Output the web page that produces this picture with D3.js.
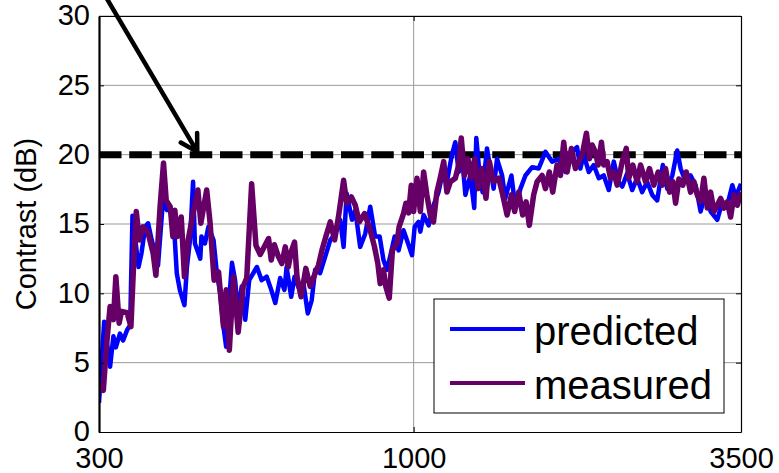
<!DOCTYPE html>
<html>
<head>
<meta charset="utf-8">
<script src="https://cdn.jsdelivr.net/npm/d3@7"></script>
<style>
  body { margin: 0; background: #fff; }
  text { font-family: Arial, "Liberation Sans", sans-serif; }
</style>
</head>
<body>
<div id="chart"></div>
<script>
// Frequencies (Hz) and contrast (dB)
var predictedFreq = [300,306,313,317,320,325,329,334,338,341,349,353,358,362,367,372,376,384,389,394,
  401,404,409,416,420,425,430,433,442,444,450,456,465,471,477,483,488,492,499,505,
  511,518,525,533,549,559,570,580,589,600,610,615,626,634,645,656,667,677,686,699,
  713,727,741,755,765,774,790,800,815,831,847,863,878,891,903,914,930,944,962,979,
  994,1004,1019,1026,1039,1059,1079,1100,1115,1136,1158,1173,1188,1203,1219,1242,1261,1271,1286,1302,
  1324,1341,1358,1376,1403,1420,1454,1476,1505,1534,1574,1614,1656,1699,1742,1788,1834,1869,1893,1917,
  1955,1992,2031,2070,2110,2151,2188,2222,2264,2308,2352,2398,2444,2492,2540,2595,2639,2691,2742,2778,
  2831,2886,2942,2999,3057,3116,3196,3259,3321,3386,3429,3500];
var predicted = [2.1,7.95,4.7,6.9,6.1,7.1,6.6,7.35,7.7,15.6,11.9,12.9,14.8,15.05,13.85,12.9,12.0,17.2,16.0,16.1,
  13.85,11.45,10.2,9.15,11.9,13.85,18.05,13.6,12.5,14.1,13.6,14.8,13.85,11.45,10.0,7.6,6.15,8.6,12.2,10.95,
  8.6,10.5,8.1,10.95,11.9,10.95,11.2,10.25,9.3,11.1,10.25,11.9,9.75,11.2,10.35,10.7,8.55,9.5,11.7,11.45,
  12.65,13.85,14.3,15.3,13.35,17.2,15.3,16.0,13.35,14.3,16.25,14.1,14.1,12.4,11.7,12.65,14.1,13.1,14.55,13.6,
  12.75,14.8,15.15,14.45,15.65,14.9,16.35,17.3,18.5,18.05,20.0,20.9,18.75,20.0,17.1,18.5,16.15,21.2,18.75,17.3,
  20.45,19.0,17.55,19.7,18.5,16.85,18.5,16.15,17.55,18.5,19.1,19.0,20.2,19.5,19.7,18.75,20.2,20.55,19.0,20.0,
  18.75,19.25,18.3,18.5,17.45,19.5,18.05,17.7,18.65,17.45,18.3,17.3,18.05,17.1,16.7,19.25,17.55,18.5,20.3,19.0,
  18.05,18.5,17.8,15.9,17.3,15.9,15.3,16.6,16.35,17.8,16.95,17.9];

var measuredFreq = [300,305,309,313,317,320,324,327,334,339,342,346,350,355,362,369,373,379,384,388,
  394,398,401,405,411,416,422,430,438,443,453,459,466,474,483,488,494,502,511,521,
  528,538,547,556,563,574,580,587,596,604,612,619,626,634,640,650,662,673,684,695,
  704,716,727,739,750,765,774,788,800,812,829,847,861,872,880,891,899,911,922,938,
  946,962,971,981,991,1000,1013,1026,1039,1052,1066,1079,1093,1107,1122,1136,1151,1173,1188,1200,
  1215,1231,1247,1263,1280,1299,1319,1336,1358,1385,1403,1430,1454,1472,1495,1518,1538,1557,1583,1604,
  1635,1656,1681,1703,1731,1754,1776,1799,1829,1857,1881,1906,1937,1960,1980,2005,2026,2052,2070,2097,
  2124,2151,2179,2222,2256,2278,2314,2352,2383,2429,2466,2507,2550,2590,2622,2663,2697,2725,2760,2802,
  2839,2886,2923,2960,2999,3037,3076,3116,3156,3196,3238,3279,3321,3364,3407,3451,3500];
var measured = [3.4,3.0,6.4,9.05,8.1,11.2,7.85,8.7,8.6,7.6,11.45,15.9,13.85,14.8,14.35,12.9,11.3,16.25,19.4,16.7,
  16.25,14.1,16.0,14.1,15.5,11.2,13.85,15.75,17.45,15.05,17.45,15.05,10.95,11.55,7.6,10.25,5.9,11.2,7.2,10.5,
  11.1,17.9,13.45,12.8,13.25,13.95,12.4,13.5,12.65,12.15,13.35,11.9,13.0,13.7,11.2,9.75,11.8,10.5,11.3,12.05,
  13.1,14.2,15.15,13.85,15.5,18.15,16.5,16.95,16.35,15.15,15.75,14.55,13.35,12.15,10.7,11.7,10.5,9.65,13.1,13.6,
  14.8,15.75,16.5,15.8,17.8,15.9,18.3,15.9,18.75,17.1,15.65,15.15,17.3,18.3,19.5,17.3,18.05,18.3,19.25,21.2,
  18.5,19.7,18.3,19.7,17.55,19.0,16.85,19.5,18.05,18.3,17.3,15.65,17.1,15.9,17.3,15.65,16.6,14.9,17.1,18.05,
  18.5,17.55,18.75,17.3,19.25,18.5,20.9,18.75,20.45,19.0,19.5,20.0,21.55,19.7,20.7,20.2,19.25,20.9,19.25,19.5,
  18.3,18.75,17.8,19.5,20.45,18.3,19.25,18.05,19.25,18.05,19.0,17.8,18.75,17.8,19.0,17.3,18.05,16.5,18.25,17.8,
  18.75,17.3,18.05,17.1,16.6,18.3,16.15,17.3,15.9,16.35,16.85,16.15,16.6,15.5,17.1,16.35,17.3];

var xTicks = [300, 1000, 3500];
var yTicks = [0, 5, 10, 15, 20, 25, 30];
var seriesNames = ['predicted', 'measured'];
var seriesColors = ['#0000ff', '#660066'];
var targetLevel = 20;
// annotation arrow: [frequency, dB] start and tip
var arrowStart = [302, 32];
var arrowTip = [437, 20.2];

var margin = {top: 16, right: 38, bottom: 41, left: 99},
    width = 779 - margin.left - margin.right,
    height = 473 - margin.top - margin.bottom;

var svg = d3.select('#chart').append('svg')
    .attr('width', 779)
    .attr('height', 473);

var g = svg.append('g')
    .attr('transform', 'translate(' + margin.left + ',' + margin.top + ')');

var x = d3.scaleLog().domain([300, 3500]).range([0, width]);
var y = d3.scaleLinear().domain([0, 30]).range([height, 0]);

// clip for the data lines
svg.append('defs').append('clipPath').attr('id', 'plot-clip')
  .append('rect').attr('width', width).attr('height', height);

// grid
g.append('g').selectAll('line')
  .data(yTicks.slice(1))
  .enter().append('line')
  .attr('x1', 0).attr('x2', width)
  .attr('y1', function(d) { return y(d); })
  .attr('y2', function(d) { return y(d); })
  .attr('stroke', '#999').attr('stroke-width', 1);

g.append('g').selectAll('line')
  .data(xTicks.slice(1, -1))
  .enter().append('line')
  .attr('x1', function(d) { return x(d); })
  .attr('x2', function(d) { return x(d); })
  .attr('y1', 0).attr('y2', height)
  .attr('stroke', '#999').attr('stroke-width', 1);

// target level dashed line
g.append('line')
  .attr('x1', x(300)).attr('x2', x(3500))
  .attr('y1', y(targetLevel)).attr('y2', y(targetLevel))
  .attr('stroke', '#000')
  .attr('stroke-width', 7)
  .attr('stroke-dasharray', '22.5,7.75');

// series
var line = d3.line()
  .x(function(d) { return x(d[0]); })
  .y(function(d) { return y(d[1]); });

var series = [
  d3.zip(predictedFreq, predicted),
  d3.zip(measuredFreq, measured)
];

var lineWidths = [4.5, 5.5];

g.append('g').attr('clip-path', 'url(#plot-clip)')
  .selectAll('path')
  .data(series)
  .enter().append('path')
  .attr('d', line)
  .attr('fill', 'none')
  .attr('stroke', function(d, i) { return seriesColors[i]; })
  .attr('stroke-width', function(d, i) { return lineWidths[i]; })
  .attr('stroke-linejoin', 'round');

// axes
var xAxis = d3.axisBottom(x).tickValues(xTicks).tickFormat(d3.format('d'))
  .tickSizeInner(-5).tickSizeOuter(0).tickPadding(15);
var yAxis = d3.axisLeft(y).tickValues(yTicks)
  .tickSizeInner(-5).tickSizeOuter(0).tickPadding(9);

g.append('g')
  .attr('transform', 'translate(0,' + height + ')')
  .call(xAxis);

var yAxisG = g.append('g').call(yAxis);

g.append('g')
  .call(d3.axisTop(x).tickValues(xTicks).tickFormat('').tickSizeInner(-5).tickSizeOuter(0));

g.append('g')
  .attr('transform', 'translate(' + width + ',0)')
  .call(d3.axisRight(y).tickValues(yTicks).tickFormat('').tickSizeInner(-5).tickSizeOuter(0));

g.selectAll('.domain').attr('stroke', '#000').attr('stroke-width', 1.2);
yAxisG.select('.domain').attr('stroke-width', 2.2);
g.selectAll('.tick line').attr('stroke', '#000');
g.selectAll('.tick text')
  .attr('font-size', 29)
  .attr('fill', '#000')
  .style('font-family', 'Arial, "Liberation Sans", sans-serif');
yAxisG.selectAll('.tick text').attr('dy', '0.3em');

// y axis label
svg.append('text')
  .attr('transform', 'translate(36,' + (margin.top + height / 2) + ') rotate(-90)')
  .attr('text-anchor', 'middle')
  .attr('font-size', 29)
  .text('Contrast (dB)');

// annotation arrow
var p0 = [x(arrowStart[0]), y(arrowStart[1])],
    p1 = [x(arrowTip[0]), y(arrowTip[1])];
var ang = Math.atan2(p1[1] - p0[1], p1[0] - p0[0]);
var barb = 19;
var b1 = [p1[0] - barb * Math.cos(ang - Math.PI / 6), p1[1] - barb * Math.sin(ang - Math.PI / 6)],
    b2 = [p1[0] - barb * Math.cos(ang + Math.PI / 6), p1[1] - barb * Math.sin(ang + Math.PI / 6)];

g.append('path')
  .attr('d', 'M' + p0 + 'L' + p1 + 'M' + b1 + 'L' + p1 + 'L' + b2)
  .attr('fill', 'none')
  .attr('stroke', '#000')
  .attr('stroke-width', 4.5)
  .attr('stroke-linecap', 'round')
  .attr('stroke-linejoin', 'round');

// legend
var legend = svg.append('g').attr('transform', 'translate(434,299)');

legend.append('rect')
  .attr('width', 290).attr('height', 114)
  .attr('fill', '#fff')
  .attr('stroke', '#000').attr('stroke-width', 1);

var item = legend.selectAll('.item')
  .data(seriesNames)
  .enter().append('g')
  .attr('transform', function(d, i) { return 'translate(0,' + (46 + i * 54) + ')'; });

item.append('line')
  .attr('x1', 16).attr('x2', 91)
  .attr('y1', -16).attr('y2', -16)
  .attr('stroke', function(d, i) { return seriesColors[i]; })
  .attr('stroke-width', 4);

item.append('text')
  .attr('x', 100)
  .attr('font-size', 40)
  .text(function(d) { return d; });
</script>
</body>
</html>
